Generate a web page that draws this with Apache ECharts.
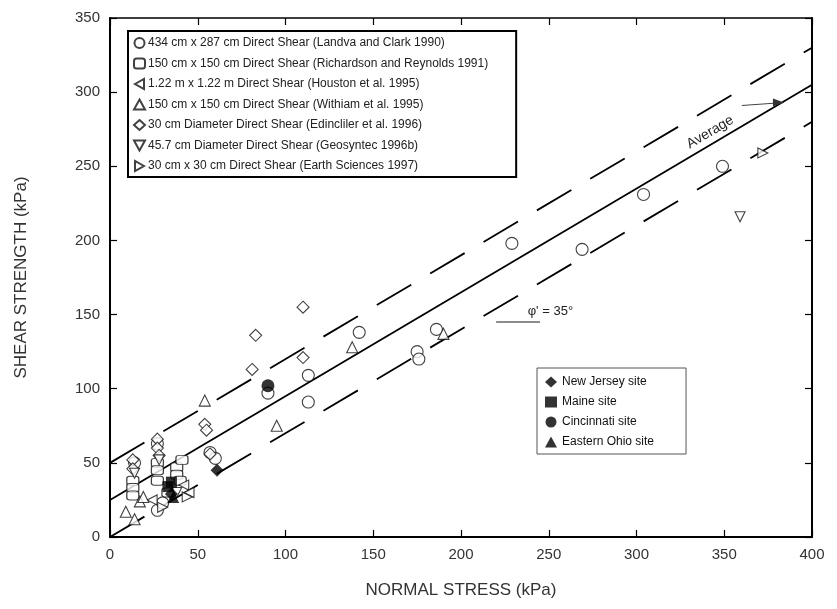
<!DOCTYPE html>
<html>
<head>
<meta charset="utf-8">
<script src="https://cdn.jsdelivr.net/npm/echarts@6/dist/echarts.min.js"></script>
<style>
  html, body { margin: 0; padding: 0; background: #fff; }
  #chart { width: 837px; height: 609px; }
</style>
</head>
<body>
<div id="chart"></div>
<script>
// tick labels
const X_TICKS = [0, 50, 100, 150, 200, 250, 300, 350, 400];
const Y_TICKS = [0, 50, 100, 150, 200, 250, 300, 350];

// fitted lines (phi' = 35 deg)
const AVERAGE_LINE = [[0, 25], [400, 305]];
const UPPER_LINE = [[0, 50], [400, 330]];
const LOWER_LINE = [[0, 0], [400, 280]];

// test series [normal stress, shear strength]
const LANDVA = [[14, 50], [27, 63], [27, 18], [30, 23], [57, 57], [60, 53], [90, 97], [113, 109], [113, 91],
    [142, 138], [175, 125], [176, 120], [186, 140], [229, 198], [269, 194], [304, 231], [349, 250]];
const RICHARDSON = [[13, 38], [13, 33], [13, 28], [27, 50], [27, 45], [27, 38], [38, 47], [38, 42], [40, 38],
    [41, 52], [33, 30]];
const HOUSTON = [[42, 35], [45, 30], [24, 25]];
const WITHIAM = [[9, 17], [17, 24], [14, 12], [19, 27], [54, 92], [95, 75], [138, 128], [190, 137]];
const EDINCLILER = [[13, 52], [13, 46], [27, 66], [27, 60], [28, 55], [54, 76], [55, 72], [81, 113], [83, 136],
    [110, 155], [110, 121], [57, 56]];
const GEOSYNTEC = [[359, 216], [14, 43], [28, 52], [38, 30]];
const EARTH_SCI = [[372, 259], [44, 27], [30, 20]];

// site series
const NEW_JERSEY = [[61, 45], [35, 29]];
const MAINE = [[33, 34], [35, 37]];
const CINCINNATI = [[90, 102]];
const EASTERN_OHIO = [[36, 27]];

const TEST_NAMES = [
    "434 cm x 287 cm Direct Shear (Landva and Clark 1990)",
    "150 cm x 150 cm Direct Shear (Richardson and Reynolds 1991)",
    "1.22 m x 1.22 m Direct Shear (Houston et al. 1995)",
    "150 cm x 150 cm Direct Shear (Withiam et al. 1995)",
    "30 cm Diameter Direct Shear (Edincliler et al. 1996)",
    "45.7 cm Diameter Direct Shear (Geosyntec 1996b)",
    "30 cm x 30 cm Direct Shear (Earth Sciences 1997)"
];
const SITE_NAMES = ["New Jersey site", "Maine site", "Cincinnati site", "Eastern Ohio site"];

// annotation anchors (data units)
const AVG_LABEL_AT = [342, 273];
const AVG_ARROW = [[360, 291], [384, 293]];
const PHI_LABEL_AT = [238, 152];
const PHI_UNDERLINE = [[220, 145], [245, 145]];

const FONT = "'Liberation Sans', Arial, sans-serif";
const TRI_LEFT = "path://M0,5L9,0L9,10Z";
const TRI_RIGHT = "path://M9,5L0,0L0,10Z";
const TRI_DOWN = "path://M5,9L0,0L10,0Z";

const openStyle = { color: "#fff", borderColor: "#111", borderWidth: 1.1 };
const solidStyle = { color: "#000" };

function scatter(name, data, symbol, size, style) {
    return {
        type: "scatter", name, data, symbol, symbolSize: size,
        itemStyle: style, z: 3
    };
}

function fitLine(name, data, type) {
    return {
        type: "line", name, data, symbol: "none", silent: true,
        lineStyle: { color: "#000", width: 1.8, type },
        z: 2
    };
}

const axisCommon = {
    min: 0,
    interval: 50,
    splitLine: { show: false },
    axisLine: { onZero: false, lineStyle: { color: "#000", width: 2 } },
    axisTick: { inside: true, length: 7, lineStyle: { color: "#000", width: 1.2 } }
};

const chart = echarts.init(document.getElementById("chart"));

chart.setOption({
    animation: false,
    textStyle: { fontFamily: FONT },
    grid: { left: 110, right: 25, top: 18, bottom: 72 },
    xAxis: [
        {
            ...axisCommon, type: "value", max: 400,
            name: "NORMAL STRESS (kPa)", nameLocation: "middle", nameGap: 45,
            nameTextStyle: { fontSize: 17, color: "#333", fontFamily: FONT },
            axisLabel: { fontSize: 15, color: "#333", margin: 10, fontFamily: FONT,
                formatter: v => X_TICKS.includes(v) ? String(v) : "" }
        },
        {
            ...axisCommon, type: "value", max: 400, position: "top",
            axisLine: { onZero: false, lineStyle: { color: "#000", width: 1.5 } },
            axisLabel: { show: false }
        }
    ],
    yAxis: [
        {
            ...axisCommon, type: "value", max: 350,
            name: "SHEAR STRENGTH (kPa)", nameLocation: "middle", nameGap: 80,
            nameTextStyle: { fontSize: 17, color: "#333", fontFamily: FONT },
            axisLabel: { fontSize: 15, color: "#333", margin: 10, fontFamily: FONT,
                formatter: v => Y_TICKS.includes(v) ? String(v) : "" }
        },
        {
            ...axisCommon, type: "value", max: 350, position: "right",
            axisLabel: { show: false }
        }
    ],
    legend: [
        {
            data: TEST_NAMES,
            orient: "vertical",
            left: 128, top: 31,
            padding: [5, 28, 4, 5],
            itemGap: 6.5,
            itemWidth: 11, itemHeight: 10,
            borderColor: "#000", borderWidth: 2,
            backgroundColor: "#fff",
            textStyle: { fontSize: 12, color: "#222", lineHeight: 14, fontFamily: FONT, padding: [0, 0, 0, -2] }
        },
        {
            data: SITE_NAMES,
            orient: "vertical",
            left: 537, top: 368,
            padding: [7, 32, 5, 8],
            itemGap: 6,
            itemWidth: 12, itemHeight: 11,
            borderColor: "#555", borderWidth: 1,
            backgroundColor: "#fff",
            textStyle: { fontSize: 12, color: "#111", lineHeight: 14, fontFamily: FONT }
        }
    ],
    series: [
        fitLine("Average", AVERAGE_LINE, "solid"),
        fitLine("Upper", UPPER_LINE, [40, 22]),
        fitLine("Lower", LOWER_LINE, [40, 22]),
        scatter(TEST_NAMES[0], LANDVA, "circle", 12, openStyle),
        scatter(TEST_NAMES[1], RICHARDSON, "roundRect", [12, 9], openStyle),
        scatter(TEST_NAMES[2], HOUSTON, TRI_LEFT, 10, openStyle),
        scatter(TEST_NAMES[3], WITHIAM, "triangle", 11, openStyle),
        scatter(TEST_NAMES[4], EDINCLILER, "diamond", 12, openStyle),
        scatter(TEST_NAMES[5], GEOSYNTEC, TRI_DOWN, 10, openStyle),
        scatter(TEST_NAMES[6], EARTH_SCI, TRI_RIGHT, 10, openStyle),
        scatter(SITE_NAMES[0], NEW_JERSEY, "diamond", 13, solidStyle),
        scatter(SITE_NAMES[1], MAINE, "rect", 11, solidStyle),
        scatter(SITE_NAMES[2], CINCINNATI, "circle", 13, solidStyle),
        scatter(SITE_NAMES[3], EASTERN_OHIO, "triangle", 12, solidStyle)
    ]
});

// annotations placed through the axes
const px = p => chart.convertToPixel({ xAxisIndex: 0, yAxisIndex: 0 }, p);
const avgAt = px(AVG_LABEL_AT);
const arrowA = px(AVG_ARROW[0]);
const arrowB = px(AVG_ARROW[1]);
const phiAt = px(PHI_LABEL_AT);
const ulA = px(PHI_UNDERLINE[0]);
const ulB = px(PHI_UNDERLINE[1]);
const slope = (px(AVERAGE_LINE[1])[1] - px(AVERAGE_LINE[0])[1]) / (px(AVERAGE_LINE[1])[0] - px(AVERAGE_LINE[0])[0]);
const angle = -Math.atan(slope);

chart.setOption({
    graphic: [
        {
            type: "text", x: avgAt[0], y: avgAt[1], rotation: angle, z: 10,
            style: { text: "Average", fontSize: 14, fill: "#222", fontFamily: FONT,
                align: "center", verticalAlign: "middle" }
        },
        {
            type: "line", z: 10,
            shape: { x1: arrowA[0], y1: arrowA[1], x2: arrowB[0], y2: arrowB[1] },
            style: { stroke: "#444", lineWidth: 1 }
        },
        {
            type: "polygon", z: 10,
            shape: { points: [[arrowB[0], arrowB[1]], [arrowB[0] - 11, arrowB[1] - 4], [arrowB[0] - 11, arrowB[1] + 4]] },
            style: { fill: "#333" }
        },
        {
            type: "text", x: phiAt[0], y: phiAt[1], z: 10,
            style: { text: "\u03c6' = 35\u00b0", fontSize: 13, fill: "#222", fontFamily: FONT,
                align: "left", verticalAlign: "middle" }
        },
        {
            type: "line", z: 10,
            shape: { x1: ulA[0], y1: ulA[1], x2: ulB[0], y2: ulB[1] },
            style: { stroke: "#666", lineWidth: 1.5 }
        }
    ]
});
</script>
</body>
</html>
